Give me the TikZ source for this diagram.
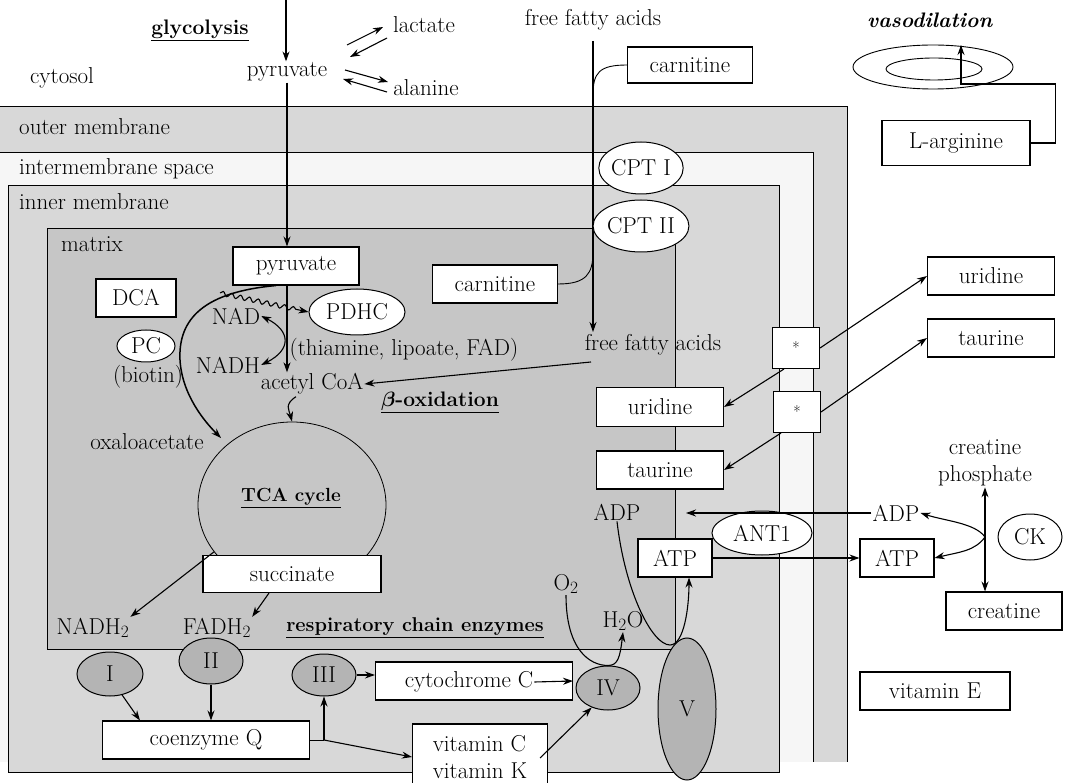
\documentclass[tikz,border=0pt]{standalone}
\usetikzlibrary{arrows.meta,decorations.pathmorphing,calc,shapes.geometric}
\definecolor{memb}{RGB}{216,216,216}
\definecolor{interm}{RGB}{246,246,246}
\definecolor{matr}{RGB}{198,198,198}
\definecolor{cplx}{RGB}{180,180,180}
\newcommand{\fsb}[1]{\fontsize{#1}{#1}\selectfont}
\tikzset{
  ln/.style={line width=0.9pt},
  box/.style={draw, fill=white, line width=1.1pt, minimum height=38pt, inner sep=2pt},
  lab/.style={inner sep=1pt},
  wel/.style={ellipse, draw, fill=white, line width=1pt, inner sep=0pt},
  cpx/.style={ellipse, draw, fill=cplx, line width=1pt, inner sep=0pt},
  arr/.style={-{Stealth[length=10pt,width=7pt]}, line width=1.1pt},
  dbl/.style={{Stealth[length=10pt,width=7pt]}-{Stealth[length=10pt,width=7pt]}, line width=1.1pt},
}
\begin{document}
\begin{tikzpicture}[x=1pt,y=-1pt,font=\fontsize{23}{27}\selectfont]
\useasboundingbox (0,0) rectangle (1066,783);
% ---------- membranes ----------
\fill[memb] (0,106) rectangle (847,762);
\draw[ln] (0,106) -- (847,106) -- (847,762);
\fill[interm] (0,152) rectangle (813,762);
\draw[ln] (0,152) -- (813,152) -- (813,762);
\draw[ln,fill=memb] (8,185) rectangle (779,772);
\draw[ln,fill=matr] (47,228) rectangle (675,649);
% ---------- region labels ----------
\node[lab] (cyt) at (62,78) {cytosol};
\node[lab,anchor=west] (lom) at (18,127) {outer membrane};
\node[lab,anchor=west] (lim) at (18,169) {intermembrane space};
\node[lab,anchor=west] (lin) at (18,202) {inner membrane};
\node[lab,anchor=west] (lmx) at (60,244) {matrix};
% ---------- cytosol ----------
\node[lab] (glyc) at (200,30) {\fsb{21}\underline{\textbf{glycolysis}}};
\node[lab] (pyrC) at (287,72) {pyruvate};
\node[lab] (lact) at (424,25) {lactate};
\node[lab] (alan) at (426,88) {alanine};
\node[lab] (ffaTop) at (593,20) {free fatty acids};
\node[lab] (vaso) at (930,20) {\fsb{21}\textbf{\textit{vasodilation}}};
\coordinate (gly0) at (286,0);
\draw[arr] (gly0) -- (gly0 |- pyrC.north);
\coordinate (la1) at (347,45); \coordinate (la2) at (383,27);
\coordinate (lb1) at (387,38); \coordinate (lb2) at (350,57);
\coordinate (aa1) at (345,70); \coordinate (aa2) at (388,82);
\coordinate (ab1) at (387,92); \coordinate (ab2) at (343,79);
\draw[arr] (la1) -- (la2);
\draw[arr] (lb1) -- (lb2);
\draw[arr] (aa1) -- (aa2);
\draw[arr] (ab1) -- (ab2);
% vasodilation
\node[ellipse,draw,ln,inner sep=0pt,minimum width=160pt,minimum height=44pt] (vo) at (933,67) {};
\node[ellipse,draw,ln,inner sep=0pt,minimum width=96pt,minimum height=22pt] (vi) at (934,69) {};
\node[box,minimum width=148pt,minimum height=45pt] (larg) at (956,143) {L-arginine};
\coordinate (vbend) at (961,84);
\coordinate (vtip) at (961,45);
\draw[arr] (larg.east) -- ++(25,0) |- (vbend) -- (vtip);
% carnitine / fatty acids
\node[box,minimum width=125pt,minimum height=36pt] (carnT) at (690,65) {carnitine};
\coordinate (ffa0) at (593,41);
\coordinate (ffa1) at (593,332);
\coordinate (cj1) at (593,95);
\coordinate (cj2) at (593,252);
\draw[arr] (ffa0) -- (ffa1);
\draw[ln] (carnT.west) .. controls +(-28,0) and +(0,-22) .. (cj1);
\node[wel,minimum width=74pt,minimum height=52pt] (cpt1) at (641,168) {CPT I};
\node[wel,minimum width=74pt,minimum height=52pt] (cpt2) at (641,226) {CPT II};
% ---------- matrix ----------
\node[box,minimum width=126pt] (pyrM) at (296,266) {pyruvate};
\node[box,minimum width=80pt] (dca) at (136,298) {DCA};
\node[wel,minimum width=58pt,minimum height=32pt] (pc) at (146,346) {PC};
\node[lab] (bio) at (148,377) {(biotin)};
\node[lab] (nad) at (236,316) {NAD};
\node[lab] (nadh) at (228,365) {NADH};
\node[wel,minimum width=96pt,minimum height=46pt] (pdhc) at (357,312) {PDHC};
\node[lab] (thia) at (404,350) {(thiamine, lipoate, FAD)};
\node[lab] (acoa) at (312,384) {acetyl CoA};
\node[lab] (beta) at (440,402) {\fsb{21}\underline{\textbf{{\boldmath$\beta$}-oxidation}}};
\node[lab] (oxa) at (147,442) {oxaloacetate};
\node[ellipse,draw,line width=0.8pt,inner sep=0pt,minimum width=188pt,minimum height=166pt] (tca) at (292,505) {};
\node[lab] (tcal) at (291,498) {\fsb{19}\underline{\textbf{TCA cycle}}};
\node[box,minimum width=178pt,minimum height=37pt] (succ) at (292,574) {succinate};
\node[box,minimum width=125pt] (carnM) at (495,284) {carnitine};
\node[lab] (ffaM) at (653,345) {free fatty acids};
\node[lab] (nadh2) at (93,628) {NADH$_2$};
\node[lab] (fadh2) at (217,628) {FADH$_2$};
\node[lab] (resp) at (415,628) {\fsb{20}\underline{\textbf{respiratory chain enzymes}}};
\draw[ln] (carnM.east) .. controls +(28,0) and +(0,22) .. (cj2);
\draw[arr] (pyrC.south) -- (pyrC.south |- pyrM.north);
\draw[arr] (pyrC.south |- pyrM.south) -- (pyrC.south |- acoa.north);
\coordinate (wv0) at (220,293);
\draw[arr,decorate,decoration={snake,amplitude=2.2pt,segment length=9pt,post length=9pt}] (wv0) -- (pdhc.west);
\draw[dbl] (nad.east) .. controls +(30,15) and +(30,-15) .. (nadh.east);
\coordinate (pc0) at ($(pyrM.south)+(-20,0)$);
\coordinate (pcm) at (180,360);
\coordinate (oxTip) at (221,438);
\draw[arr,line width=1.5pt] (pc0) .. controls (205,292) and (178,318) .. (pcm) .. controls (182,395) and (205,422) .. (oxTip);
\draw[arr] ($(acoa.south)+(-16,1)$) .. controls +(-12,8) and +(-3,-12) .. (tca.north);
\coordinate (ffaOut) at (591,362);
\draw[arr] (ffaOut) -- (acoa.east);
\draw[arr] (tca.211) -- (nadh2.north east);
\draw[arr] ($(succ.south)+(-23,0)$) -- (fadh2.north east);
% ---------- right side transporters ----------
\node[box,minimum width=127pt] (uriR) at (991,276) {uridine};
\node[box,minimum width=127pt] (tauR) at (991,338) {taurine};
\node[box,minimum width=47pt,minimum height=41pt] (st1) at (796,348) {\fsb{16}*};
\node[box,minimum width=47pt,minimum height=41pt] (st2) at (797,412) {\fsb{16}*};
\node[box,minimum width=127pt,minimum height=39pt] (uriM) at (660,407) {uridine};
\node[box,minimum width=127pt] (tauM) at (660,470) {taurine};
\draw[arr] (st1.east) -- (uriR.west);
\draw[arr] ($(st1.south west)+(12,0)$) -- (uriM.east);
\draw[arr] (st2.east) -- (tauR.west);
\draw[arr] ($(st2.south west)+(8,0)$) -- (tauM.east);
% ---------- ADP / ATP ----------
\node[lab] (adpL) at (617,512) {ADP};
\node[box,minimum width=74pt] (atpL) at (675,558) {ATP};
\node[wel,minimum width=100pt,minimum height=44pt] (ant) at (762,533) {ANT1};
\node[lab] (adpR) at (896,513) {ADP};
\node[box,minimum width=74pt] (atpR) at (897,558) {ATP};
\node[wel,minimum width=64pt,minimum height=46pt] (ck) at (1030,537) {CK};
\node[lab,align=center] (crph) at (985,463) {creatine\\phosphate};
\node[box,minimum width=116pt] (creat) at (1004,611) {creatine};
\node[box,minimum width=150pt] (vitE) at (935,691) {vitamin E};
\coordinate (adpTip) at (686,510);
\draw[arr] (adpR.west) -- (adpR.west -| adpTip);
\draw[arr] (atpL.east) -- (atpR.west);
\draw[dbl] (crph.south) -- (crph.south |- creat.north);
\coordinate (ckx) at (985,537);
\draw[arr] (ckx) .. controls +(-10,-14) and +(25,8) .. (adpR.east);
\draw[arr] (ckx) .. controls +(-10,14) and +(25,-6) .. (atpR.east);
% ---------- respiratory chain ----------
\node[cpx,minimum width=66pt,minimum height=44pt] (c1) at (110,674) {I};
\node[cpx,minimum width=64pt,minimum height=46pt] (c2) at (211,661) {II};
\node[cpx,minimum width=64pt,minimum height=42pt] (c3) at (324,675) {III};
\node[box,minimum width=197pt] (cytc) at (474,681) {};
\node[lab] (cytcT) at (469,682) {cytochrome C};
\node[cpx,minimum width=64pt,minimum height=44pt] (c4) at (608,688) {IV};
\node[cpx,minimum width=58pt,minimum height=142pt] (c5) at (687,709) {V};
\node[box,minimum width=207pt] (coq) at (206,740) {coenzyme Q};
\node[box,minimum width=135pt,minimum height=66pt,align=left] (vit) at (480,757) {vitamin C\\vitamin K};
\node[lab] (o2) at (566,584) {O$_2$};
\node[lab] (h2o) at (623,621) {H$_2$O};
\draw[arr] (c1.-60) -- ($(coq.north west)+(38,0)$);
\draw[arr] (c2.south) -- (c2.south |- coq.north);
\coordinate (qj) at (coq.east -| c3.south);
\draw[ln] (coq.east) -- (qj);
\draw[arr] (qj) -- (c3.south);
\draw[arr] (qj) -- (vit.west);
\draw[arr] (c3.east) -- (c3.east -| cytc.west);
\draw[arr] (cytcT.east) -- (cytc.east);
\draw[arr] ($(vit.east)+(-8,1)$) -- (c4.230);
\draw[arr] (o2.south) .. controls +(0,55) and +(-18,0) .. (c4.north) .. controls +(10,0) and +(-3,25) .. (h2o.south);
\coordinate (vU) at (670,645);
\draw[arr] (adpL.south) .. controls +(8,70) and +(-18,0) .. (vU) .. controls +(14,0) and +(0,30) .. ($(atpL.south)+(14,0)$);
\end{tikzpicture}
\end{document}
